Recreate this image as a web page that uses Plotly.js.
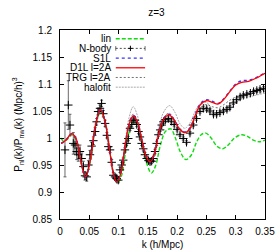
<!DOCTYPE html>
<html><head><meta charset="utf-8">
<script src="https://cdn.plot.ly/plotly-3.0.1.min.js"></script>
<style>html,body{margin:0;padding:0;background:#fff;}#chart{width:280px;height:250px;}</style>
</head><body><div id="chart"></div>
<script>
// ---- data ----
const linK = [0.001,0.006,0.012,0.020,0.027,0.035,0.0435,0.052,0.060,0.069,0.077,0.085,0.091,0.098,0.105,0.112,0.119,0.126,0.133,0.141,0.149,0.156,0.163,0.171,0.180,0.189,0.197,0.206,0.215,0.224,0.233,0.241,0.249,0.258,0.268,0.278,0.288,0.298,0.310,0.320,0.330,0.340,0.350];
const linV = [1.000,0.995,0.997,1.006,0.998,0.958,0.928,0.958,1.016,1.049,1.030,0.977,0.937,0.916,0.930,0.975,1.015,1.032,1.022,0.985,0.950,0.935,0.948,0.985,1.012,1.017,1.000,0.973,0.960,0.968,0.992,1.006,1.009,1.000,0.985,0.980,0.988,1.000,1.006,1.003,0.996,0.993,0.996];

const d1lK = [0.002,0.010,0.020,0.027,0.035,0.0435,0.052,0.060,0.069,0.077,0.085,0.091,0.097,0.104,0.111,0.118,0.125,0.132,0.140,0.147,0.154,0.161,0.168,0.176,0.186,0.195,0.204,0.213,0.222,0.231,0.240,0.250,0.260,0.270,0.280,0.290,0.300,0.310,0.322,0.335,0.350];
const d1lV = [0.990,0.996,1.008,1.000,0.960,0.928,0.960,1.020,1.053,1.030,0.975,0.935,0.918,0.935,0.985,1.025,1.041,1.030,0.995,0.966,0.956,0.970,1.005,1.033,1.043,1.033,1.017,1.010,1.018,1.042,1.062,1.069,1.066,1.063,1.072,1.086,1.098,1.103,1.105,1.111,1.120];
const s1lV = [0.990,0.996,1.008,1.000,0.960,0.928,0.960,1.020,1.053,1.030,0.975,0.935,0.918,0.935,0.985,1.025,1.042,1.030,0.995,0.966,0.956,0.970,1.005,1.034,1.044,1.034,1.017,1.011,1.019,1.044,1.064,1.071,1.068,1.064,1.073,1.087,1.100,1.106,1.107,1.112,1.121];
const trgV = [0.990,0.996,1.008,1.000,0.960,0.928,0.960,1.020,1.054,1.030,0.975,0.935,0.918,0.935,0.986,1.027,1.044,1.032,0.996,0.966,0.956,0.971,1.007,1.036,1.046,1.035,1.017,1.010,1.016,1.038,1.056,1.062,1.058,1.056,1.062,1.070,1.076,1.080,1.082,1.084,1.086];

const halK = [0.002,0.010,0.020,0.027,0.035,0.0435,0.052,0.060,0.069,0.077,0.085,0.091,0.097,0.104,0.111,0.118,0.125,0.132,0.140,0.147,0.154,0.161,0.168,0.177,0.187,0.196,0.205,0.213,0.222,0.231,0.240,0.250,0.262,0.275,0.290,0.310,0.330,0.350];
const halV = [0.990,0.996,1.008,1.000,0.960,0.928,0.962,1.026,1.058,1.033,0.976,0.935,0.918,0.937,0.990,1.038,1.058,1.042,0.998,0.966,0.956,0.974,1.015,1.048,1.060,1.048,1.026,1.018,1.028,1.050,1.064,1.066,1.052,1.052,1.060,1.072,1.078,1.083];

const nbK = [0.0085,0.0142,0.0170,0.0227,0.0256,0.0285,0.0312,0.0341,0.0370,0.0400,0.0427,0.0456,0.0485,0.0512,0.0540,0.0570,0.0600,0.0625,0.0650,0.0683,0.0710,0.0740,0.0770,0.0800,0.0825,0.0855,0.0883,0.0910,0.0940,0.0968,0.0995,0.1024,0.1053,0.1080,0.1109,0.1138,0.1166,0.1195,0.1225,0.1250,0.1280,0.1310,0.1340,0.1365,0.1394,0.1422,0.1450,0.1480,0.1510,0.1537,0.1565,0.1594,0.1622,0.1650,0.1680,0.1710,0.1737,0.1766,0.1800,0.1850,0.1900,0.1950,0.2000,0.2049,0.2105,0.2160,0.2219,0.2275,0.2330,0.2390,0.2447,0.2505,0.2560,0.2620,0.2674,0.2730,0.2790,0.2850,0.2900,0.2960,0.3015,0.3075,0.3130,0.3190,0.3250,0.3305,0.3360,0.3415,0.3475];
const nbV = [0.978,1.061,1.024,0.990,0.987,0.975,0.969,0.975,0.962,0.947,0.930,0.928,0.950,0.969,0.985,0.995,1.012,1.030,1.049,1.055,1.064,1.045,1.027,1.005,0.984,0.978,0.955,0.931,0.928,0.925,0.922,0.941,0.950,0.959,0.978,0.990,0.999,1.018,1.025,1.033,1.033,1.025,1.012,1.002,0.990,0.980,0.969,0.962,0.958,0.956,0.957,0.962,0.975,0.990,1.006,1.015,1.024,1.030,1.034,1.036,1.031,1.025,1.016,1.006,0.999,0.992,1.009,1.024,1.036,1.049,1.055,1.054,1.050,1.044,1.044,1.047,1.050,1.053,1.057,1.065,1.071,1.076,1.079,1.081,1.083,1.086,1.088,1.090,1.092];
const nbErr = [0.050,0.045,0.020,0.020,0.015,0.015,0.012,0.012,0.010,0.010,0.008,0.008,0.008,0.008,0.007,0.007,0.007,0.006,0.006,0.006,0.006,0.006,0.006,0.005,0.005,0.005,0.005,0.005,0.005,0.005,0.005,0.005,0.005,0.004,0.004,0.004,0.004,0.004,0.004,0.004,0.004,0.004,0.004,0.004,0.004,0.004,0.004,0.004,0.004,0.004,0.004,0.004,0.004,0.004,0.003,0.003,0.003,0.003,0.003,0.003,0.003,0.003,0.003,0.003,0.003,0.003,0.003,0.003,0.003,0.003,0.003,0.003,0.003,0.003,0.003,0.003,0.003,0.003,0.003,0.003,0.003,0.003,0.003,0.003,0.003,0.003,0.003,0.003,0.003];

const legendNames = ['lin','N-body','S1L','D1L l=2A','TRG l=2A','halofit'];
const xTitle = 'k (h/Mpc)';
const yTitle = 'P<sub>nl</sub>(k)/P<sub>nw</sub>(k) (Mpc/h)<sup>3</sup>';
const chartTitle = 'z=3';

// ---- styles ----
const cLin = '#10dd10', cS1L = '#3333ff', cD1L = '#ff0000', cTRG = '#333333', cHal = '#aaaaaa';

const traces = [
  {x: linK, y: linV, mode:'lines', line:{color:cLin, width:1.4, dash:'4px,2px', shape:'spline', smoothing:1}, showlegend:false},
  {x: halK, y: halV, mode:'lines', line:{color:cHal, width:1, dash:'2px,1px', shape:'spline', smoothing:1}, showlegend:false},
  {x: d1lK, y: trgV, mode:'lines', line:{color:cTRG, width:0.7, dash:'2px,2px', shape:'spline', smoothing:1}, showlegend:false},
  {x: nbK, y: nbV, mode:'markers', marker:{symbol:'cross-thin', size:6, line:{width:1, color:'#000'}},
   error_y:{type:'data', array:nbErr, color:'#444', thickness:0.8, width:1.5},
   error_x:{type:'constant', value:0.0015, color:'#777', thickness:0.6, width:0}, showlegend:false},
  {x: d1lK, y: s1lV, mode:'lines', line:{color:cS1L, width:1.4, dash:'dot', shape:'spline', smoothing:1}, showlegend:false},
  {x: d1lK, y: d1lV, mode:'lines', line:{color:cD1L, width:1.3, shape:'spline', smoothing:1}, showlegend:false}
];

// manual legend (text right-aligned, sample to the right)
const legY0 = 0.954, legDY = 0.0513;
const annotations = [];
const shapes = [];
const sampleStyles = [
  {color:cLin, width:1.4, dash:'4px,2px'},
  {color:'#222', width:0.8, dash:'2px,2px'},
  {color:cS1L, width:1.4, dash:'dot'},
  {color:cD1L, width:1.3, dash:'solid'},
  {color:cTRG, width:0.7, dash:'2px,2px'},
  {color:cHal, width:1, dash:'2px,1px'}
];
legendNames.forEach((name,i)=>{
  const yy = legY0 - i*legDY;
  annotations.push({xref:'paper', yref:'paper', x:0.252, y:yy, xanchor:'right', yanchor:'middle', text:name, showarrow:false, borderpad:0, font:{size:10, color:'#000'}});
  shapes.push({type:'line', xref:'paper', yref:'paper', x0:0.272, x1:0.415, y0:yy, y1:yy, line:sampleStyles[i]});
});
// N-body legend sample decorations: central + and end bars
{
  const yy = legY0 - legDY;
  shapes.push({type:'line', xref:'paper', yref:'paper', x0:0.3435, x1:0.3435, y0:yy-0.014, y1:yy+0.014, line:{color:'#000', width:1}});
  shapes.push({type:'line', xref:'paper', yref:'paper', x0:0.333, x1:0.354, y0:yy, y1:yy, line:{color:'#000', width:1}});
  shapes.push({type:'line', xref:'paper', yref:'paper', x0:0.272, x1:0.272, y0:yy-0.012, y1:yy+0.012, line:{color:'#444', width:0.8}});
  shapes.push({type:'line', xref:'paper', yref:'paper', x0:0.415, x1:0.415, y0:yy-0.012, y1:yy+0.012, line:{color:'#444', width:0.8}});
}

const layout = {
  width:280, height:250,
  margin:{l:60, r:15, t:30, b:31, pad:0},
  paper_bgcolor:'#fff', plot_bgcolor:'#fff',
  font:{family:'Liberation Sans, Arial, sans-serif', size:10, color:'#000'},
  title:{text:chartTitle, x:0.47, xref:'paper', xanchor:'center', y:1, yref:'container', yanchor:'top', pad:{t:9}, font:{size:10, color:'#000'}},
  showlegend:false,
  xaxis:{range:[0,0.35], tick0:0, dtick:0.05, ticks:'inside', ticklen:4, tickwidth:1, tickcolor:'#000',
         showline:true, mirror:'ticks', linecolor:'#000', linewidth:1, showgrid:false, zeroline:false,
         ticklabelstandoff:3, title:{text:xTitle, standoff:7, font:{size:10}}},
  yaxis:{range:[0.85,1.2], tick0:0.85, dtick:0.05, ticks:'inside', ticklen:4, tickwidth:1, tickcolor:'#000',
         showline:true, mirror:'ticks', linecolor:'#000', linewidth:1, showgrid:false, zeroline:false,
         ticklabelstandoff:5, title:{text:yTitle, standoff:8, font:{size:10}}},
  annotations: annotations,
  shapes: shapes
};
Plotly.newPlot('chart', traces, layout, {staticPlot:true, displayModeBar:false});
</script></body></html>
